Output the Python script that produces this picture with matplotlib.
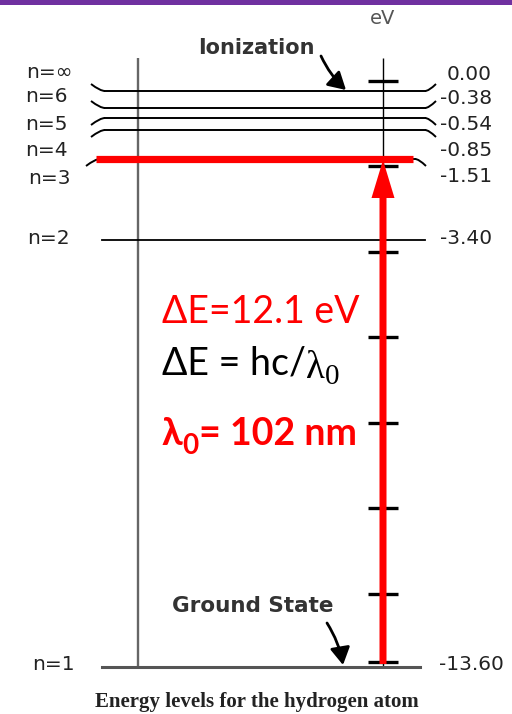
import matplotlib
matplotlib.use("Agg")
import matplotlib.pyplot as plt
import matplotlib.patches as patches
from matplotlib.path import Path

# Hydrogen energy levels (eV)
level_names = ["n=∞", "n=6", "n=5", "n=4", "n=3", "n=2", "n=1"]
level_energy = [0.00, -0.38, -0.54, -0.85, -1.51, -3.40, -13.60]
# marks on the eV scale
scale_ticks = [0, -2, -4, -6, -8, -10, -12, -13.6]
hc_ev_nm = 1239.84  # h*c in eV*nm
upper, lower = 4, 6  # n=3 <- n=1 absorption

dE = level_energy[upper] - level_energy[lower]
lam0 = hc_ev_nm / dE

# ---- layout (pixels, y downwards) ----
W, H = 512, 714
line_y = [91, 108, 118, 130, 159, 240, 667]      # drawn rows (not to scale)
curl_dir = [1, 1, -1, -1, -1, 0, 0]              # 1 = bend up, -1 = bend down
name_y = [73, 97, 124, 150, 178, 239, 665]
name_x = [26, 25, 25, 25, 28, 27, 32]
value_y = [75, 98, 125, 150, 177, 239, 665]
axis_x = 383
red = "#ff0000"
ink = "#222222"

fig = plt.figure(figsize=(W / 100, H / 100), dpi=100)
# energy scale axes (eV), underneath the diagram axes
ev = fig.add_axes([0, 0, 1, 1])
px_per_ev = (662 - 81) / 13.6
ev.set_xlim(0, W)
ev.set_ylim(-(H - 81) / px_per_ev, 81 / px_per_ev)
ev.axis("off")
ev.set_zorder(0)

ax = fig.add_axes([0, 0, 1, 1])
ax.set_xlim(0, W)
ax.set_ylim(H, 0)
ax.axis("off")
ax.patch.set_alpha(0)
ax.set_zorder(1)

# purple strip along the top
ax.add_patch(patches.Rectangle((0, 0), W, 5, color="#7030a0", lw=0))

# vertical guide lines
ax.plot([138, 138], [58, 667], color="#666666", lw=1.7, solid_capstyle="butt")
ax.plot([axis_x, axis_x], [58, 667], color="black", lw=1.0, solid_capstyle="butt")

# scale ticks drawn in eV
ev.hlines(scale_ticks, 368, 398, color="black", lw=2.4)


def curl(x0, y0, dx, dy):
    verts = [(x0, y0), (x0 + dx * 0.35, y0), (x0 + dx, y0 + dy)]
    codes = [Path.MOVETO, Path.CURVE3, Path.CURVE3]
    return patches.PathPatch(Path(verts, codes), fill=False, lw=1.4, color="black")


# energy level lines
for i, y in enumerate(line_y):
    if curl_dir[i] != 0:
        x0, x1 = (100, 415) if i == upper else (105, 425)
        ax.plot([x0, x1], [y, y], color="black", lw=1.4)
        ax.add_patch(curl(x0, y, -14, -7 * curl_dir[i]))
        ax.add_patch(curl(x1, y, 11, -7 * curl_dir[i]))
    elif i == lower:
        ax.plot([102, 420], [y, y], color="#555555", lw=2.2)
    else:
        ax.plot([102, 425], [y, y], color="black", lw=1.3)

    ax.text(name_x[i], name_y[i], level_names[i], ha="left", va="center",
            fontsize=14.5, color=ink)
    val = f"{level_energy[i]:.2f}"
    if i == lower:
        ax.text(439, value_y[i], val, ha="left", va="center", fontsize=14.5, color=ink)
    else:
        ax.text(492, value_y[i], val, ha="right", va="center", fontsize=14.5, color=ink)

# highlighted excited level and the absorption arrow
ax.plot([96, 413], [line_y[upper], line_y[upper]], color=red, lw=5.2,
        solid_capstyle="butt", zorder=4)
tail = line_y[lower] - 3
ax.arrow(axis_x, tail, 0, line_y[upper] + 1 - tail, width=7, head_width=23,
         head_length=38, length_includes_head=True, color=red, lw=0, zorder=5)

# annotations
ax.text(axis_x, 18, "eV", ha="center", va="center", fontsize=14, color="#555555")
ax.text(256, 48, "Ionization", ha="center", va="center", fontsize=15,
        fontweight="bold", color="#333333")
ax.annotate("", xy=(346, 90), xytext=(321, 56),
            arrowprops=dict(arrowstyle="-|>,head_length=0.7,head_width=0.4",
                            mutation_scale=15, connectionstyle="arc3,rad=0.1",
                            color="black", lw=2.0, shrinkA=0, shrinkB=0))
ax.text(253, 606, "Ground State", ha="center", va="center", fontsize=15.5,
        fontweight="bold", color="#333333")
ax.annotate("", xy=(343, 665), xytext=(327, 623),
            arrowprops=dict(arrowstyle="-|>,head_length=0.7,head_width=0.4",
                            mutation_scale=15, connectionstyle="arc3,rad=-0.1",
                            color="black", lw=2.0, shrinkA=0, shrinkB=0))
ax.text(257, 702, "Energy levels for the hydrogen atom", ha="center", va="center",
        fontsize=15, fontweight="bold", family="Liberation Serif", color=ink)


def text_run(x, y, parts):
    # place pieces of text one after another along a baseline
    prev = None
    for s, kw, dy in parts:
        if prev is None:
            prev = ax.text(x, y + dy, s, ha="left", va="baseline", **kw)
        else:
            prev = ax.annotate(s, xy=(1, y + dy), xycoords=(prev, "data"),
                               ha="left", va="baseline", **kw)


sans = dict(family=["Lato", "DejaVu Sans"], fontsize=27)
serif = dict(family=["Liberation Serif", "DejaVu Serif"])
text_run(162, 323, [(f"ΔE={dE:.1f} eV", dict(color=red, **sans), 0)])
text_run(162, 375, [("ΔE = hc/", dict(color="black", **sans), 0),
                    ("λ", dict(color="black", fontsize=28, **serif), 3),
                    ("0", dict(color="black", fontsize=21, **serif), 9)])
text_run(162, 445, [("λ", dict(color=red, fontweight="bold", **sans), 0),
                    ("0", dict(color=red, fontweight="bold",
                               family=["Lato", "DejaVu Sans"], fontsize=20), 9),
                    (f"= {int(lam0)} nm", dict(color=red, fontweight="bold", **sans), 0)])

fig.savefig("out.png", dpi=100)
